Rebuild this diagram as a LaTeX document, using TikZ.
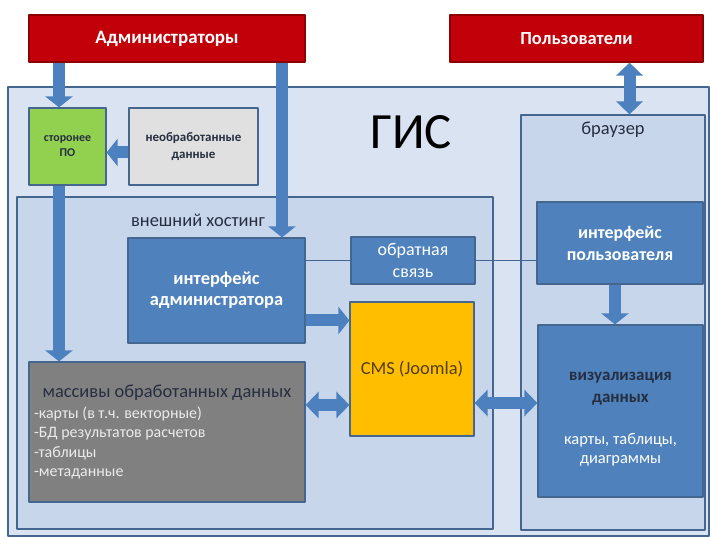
\documentclass[tikz,border=0pt]{standalone}
\usepackage{fontspec}
\setmainfont{Carlito}
\usetikzlibrary{arrows.meta}
\definecolor{admred}{rgb}{0.76,0.0,0.04}
\definecolor{redline}{rgb}{0.55,0.0,0.0}
\definecolor{boxline}{rgb}{0.27,0.40,0.56}
\definecolor{boxblue}{rgb}{0.31,0.51,0.74}
\definecolor{arrowblue}{rgb}{0.30,0.50,0.75}
\definecolor{gisfill}{rgb}{0.85,0.89,0.95}
\definecolor{hostfill}{rgb}{0.78,0.84,0.92}
\definecolor{swgreen}{rgb}{0.57,0.82,0.31}
\definecolor{rawgrey}{rgb}{0.88,0.88,0.88}
\definecolor{darkgrey}{rgb}{0.50,0.50,0.50}
\definecolor{cmsyellow}{rgb}{1.0,0.75,0.0}
\definecolor{cmstext}{rgb}{0.33,0.24,0.06}
\definecolor{darktext}{rgb}{0.15,0.18,0.25}
\def\fs#1#2{\fontsize{#1}{#2}\selectfont}

\begin{document}
\begin{tikzpicture}[line join=bevel,
  box/.style={draw=boxline,line width=1.2bp,inner sep=0pt,align=center},
  fat/.style={draw=arrowblue,line width=12bp,-{Triangle[width=27bp,length=11bp]}},
  fatboth/.style={draw=arrowblue,line width=12bp,{Triangle[width=26bp,length=13bp]}-{Triangle[width=26bp,length=13bp]}},
  link/.style={draw=boxline,line width=1bp}]
      %%
      \useasboundingbox [fill=white] (0bp,0bp) rectangle (710bp,541bp);
      %% containers
      \node (gis) at (358.5bp,229.5bp) [box,fill=gisfill,minimum width=701bp,minimum height=449bp] {};
      \node (host) at (255.0bp,178.0bp) [box,fill=hostfill,minimum width=476bp,minimum height=332bp] {};
      \node (brw) at (613.0bp,218.5bp) [box,fill=hostfill,minimum width=184bp,minimum height=415bp] {};
      \node (gislabel) at (411.0bp,409.0bp) [font=\fs{51}{51}] {ГИС};
      \node (hostlabel) at (198.0bp,321.0bp) [text=darktext,font=\fs{18.5}{20}] {внешний хостинг};
      \node (brwlabel) at (613.0bp,411.0bp) [text=darktext,font=\fs{18.5}{20}] {браузер};
      %% actors
      \node (adm) at (167.0bp,502.5bp) [box,draw=redline,fill=admred,text=white,minimum width=276bp,minimum height=47bp,font=\fs{19}{20}\bfseries] {Администраторы};
      \node (usr) at (576.5bp,502.5bp) [box,draw=redline,fill=admred,text=white,minimum width=253bp,minimum height=47bp,font=\fs{18.5}{20}\bfseries] {Пользователи};
      %% blocks
      \node (sw) at (67.5bp,394.5bp) [box,fill=swgreen,text=darktext,minimum width=77bp,minimum height=77bp,font=\fs{12}{15}\bfseries] {сторонее\\ПО};
      \node (raw) at (193.5bp,394.5bp) [box,fill=rawgrey,text=darktext,minimum width=129bp,minimum height=77bp,font=\fs{13}{17}\bfseries] {необработанные\\данные};
      \node (aif) at (216.5bp,250.5bp) [box,fill=boxblue,text=white,minimum width=177bp,minimum height=105bp,font=\fs{18.5}{21}\bfseries] {интерфейс\\администратора};
      \node (fb) at (413.0bp,280.5bp) [box,fill=boxblue,text=white,minimum width=124bp,minimum height=47bp,font=\fs{18}{22}] {обратная\\связь};
      \node (uif) at (620.0bp,298.0bp) [box,fill=boxblue,text=white,minimum width=166bp,minimum height=82bp,font=\fs{18}{22}\bfseries] {интерфейс\\пользователя};
      \node (cms) at (412.0bp,172.0bp) [box,fill=cmsyellow,text=cmstext,minimum width=124bp,minimum height=134bp,font=\fs{18.5}{20}] {CMS (Joomla)};
      \node (arr) at (167.0bp,109.0bp) [box,fill=darkgrey,text=white!92!black,minimum width=276bp,minimum height=140bp,align=left,font=\fs{16}{19.5}] {\makebox[266bp]{\fs{18.5}{20}\textcolor{darktext}{массивы обработанных данных}}\\[2bp]-карты (в т.ч. векторные)\\-БД результатов расчетов\\-таблицы\\-метаданные};
      \node (vis) at (620.5bp,130.0bp) [box,fill=boxblue,text=white,minimum width=165bp,minimum height=172bp,font=\fs{17}{21}] {\rule{0pt}{24bp}\textbf{\textcolor{darktext}{визуализация}}\\[1bp]\textbf{\textcolor{darktext}{данных}}\\[21bp]\fs{16.5}{19}карты, таблицы,\\[-2bp]\fs{16.5}{19}диаграммы};
      %% arrows
      \coordinate (a1) at ([xshift=-8.5bp]sw.north);
      \coordinate (a2) at ([xshift=65.5bp]aif.north);
      \coordinate (a3) at ([xshift=53bp]usr.south);
      \draw [fat] (a1 |- adm.south) -- (a1);
      \draw [fat] (a2 |- adm.south) -- (a2);
      \draw [fat] ([yshift=-6bp]raw.west) -- ([yshift=-6bp]sw.east);
      \coordinate (a4) at ([xshift=-8.5bp]sw.south);
      \draw [fat] (a4) -- (a4 |- arr.north);
      \coordinate (a5) at ([yshift=-30bp]aif.east);
      \draw [fat] (a5) -- (a5 -| cms.west);
      \coordinate (a6) at ([yshift=27bp]arr.east);
      \draw [fatboth] (a6) -- (a6 -| cms.west);
      \coordinate (a7) at ([yshift=-34bp]cms.east);
      \draw [fatboth] (a7) -- (a7 -| vis.west);
      \coordinate (a8) at ([xshift=-5bp]uif.south);
      \draw [fat] (a8) -- (a8 |- vis.north);
      \draw [fatboth] (a3) -- (a3 |- brw.north);
      %% feedback link
      \draw [link] (fb.west -| aif.east) -- (fb.west);
      \draw [link] (fb.east) -- (fb.east -| uif.west);
    \end{tikzpicture}
\end{document}
